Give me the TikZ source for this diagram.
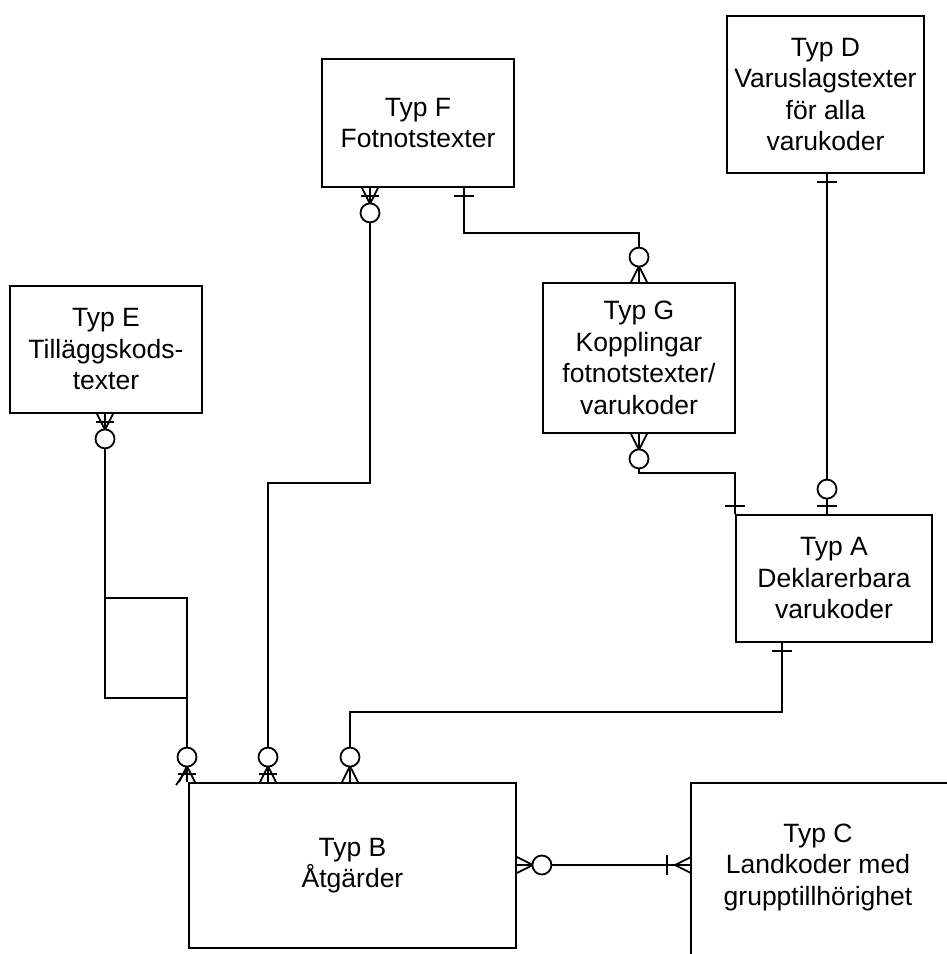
\documentclass[tikz,border=0pt]{standalone}
\usepackage{fontspec}
\setmainfont{Liberation Sans}
\usetikzlibrary{calc}
\begin{document}
\begin{tikzpicture}[x=1pt,y=-1pt,line width=1.8pt,
  ent/.style={draw,rectangle,align=center,inner sep=0pt,font=\fontsize{26.5}{31.5}\selectfont},
  crow/.pic={\draw (-8,0)--(0,16)--(8,0);},
  crowbar/.pic={\draw (-8,0)--(0,16)--(8,0); \draw (-9,8)--(9,8);},
  onebar/.pic={\draw (-10,8)--(10,8);},
  onecrow/.pic={\draw (-8,0)--(0,16)--(8,0); \draw (-10,24)--(10,24);},
  zcirc/.pic={\draw[fill=white] (0,25) circle (9.5pt);}]
\useasboundingbox (0,0) rectangle (946,954);
% entities
\node[ent,minimum width=192pt,minimum height=128pt] (F) at (418,123) {Typ F\\Fotnotstexter};
\node[ent,minimum width=197pt,minimum height=157pt] (D) at (825.5,94.5) {Typ D\\Varuslagstexter\\för alla\\varukoder};
\node[ent,minimum width=192pt,minimum height=127pt] (E) at (106,349.5) {Typ E\\Tilläggskods-\\texter};
\node[ent,minimum width=192pt,minimum height=150pt] (G) at (639,358) {Typ G\\Kopplingar\\fotnotstexter/\\varukoder};
\node[ent,minimum width=196pt,minimum height=127pt] (A) at (834,578.5) {Typ A\\Deklarerbara\\varukoder};
\node[ent,minimum width=327pt,minimum height=165pt] (B) at (352.5,865.5) {Typ B\\Åtgärder};
\node[align=center,inner sep=0pt,font=\fontsize{26.5}{31.5}\selectfont] (C) at (818,867) {Typ C\\Landkoder med\\grupptillhörighet};
\coordinate (Ctr) at (950,783);
\coordinate (Ctl) at (691,783);
\coordinate (Cbl) at (691,960);
\draw (Ctr) -- (Ctl) -- (Cbl);
% helper x positions
\coordinate (x105) at (105,0);
\coordinate (x187) at (187,0);
\coordinate (x268) at (268,0);
\coordinate (x350) at (350,0);
\coordinate (x370) at (370,0);
\coordinate (x464) at (464,0);
\coordinate (x639) at (639,0);
\coordinate (x735) at (735,0);
\coordinate (x782) at (782,0);
\coordinate (x827) at (827,0);
\coordinate (y865) at (0,865);
% connector end points
\coordinate (Fb1) at (F.south -| x370);
\coordinate (Fb2) at (F.south -| x464);
\coordinate (Eb) at (E.south -| x105);
\coordinate (Gt) at (G.north -| x639);
\coordinate (Gb) at (G.south -| x639);
\coordinate (Db) at (D.south -| x827);
\coordinate (At1) at (A.north -| x735);
\coordinate (At2) at (A.north -| x827);
\coordinate (Ab) at (A.south -| x782);
\coordinate (Bt1) at (B.north -| x187);
\coordinate (Bt2) at (B.north -| x268);
\coordinate (Bt3) at (B.north -| x350);
\coordinate (Br) at (B.east |- y865);
\coordinate (Cl) at (Ctl |- y865);
% connectors
\draw[line width=2.6pt] (Fb1) -- (370,483) -- (268,483) -- (Bt2);
\draw (Eb) -- (105,698) -- (187,698) -- (Bt1);
\draw (Eb) -- (105,598) -- (187,598) -- (Bt1);
\draw (Fb2) -- (464,233) -- (639,233) -- (Gt);
\draw (Gb) -- (639,473) -- (735,473) -- (At1);
\draw (Db) -- (At2);
\draw (Ab) -- (782,712) -- (350,712) -- (Bt3);
\draw (Br) -- (Cl);
% end symbols
\pic at (Fb1) {crowbar}; \pic at (Fb1) {zcirc};
\pic[rotate=180] at (Bt2) {crowbar}; \pic[rotate=180] at (Bt2) {zcirc};
\pic at (Eb) {crowbar}; \pic at (Eb) {zcirc};
\pic[rotate=180] at (Bt1) {crowbar}; \pic[rotate=180] at (Bt1) {zcirc};
\draw ($(Bt1)+(-11,3)$) -- ($(Bt1)+(0,-13)$);
\pic at (Fb2) {onebar};
\pic[rotate=180] at (Gt) {crow}; \pic[rotate=180] at (Gt) {zcirc};
\pic at (Gb) {crow}; \pic at (Gb) {zcirc};
\pic[rotate=180] at (At1) {onebar};
\pic at (Db) {onebar};
\pic[rotate=180] at (At2) {onebar}; \pic[rotate=180] at (At2) {zcirc};
\pic at (Ab) {onebar};
\pic[rotate=180] at (Bt3) {crow}; \pic[rotate=180] at (Bt3) {zcirc};
\pic[rotate=90] at (Br) {crow}; \pic[rotate=90] at (Br) {zcirc};
\pic[rotate=-90] at (Cl) {onecrow};
\end{tikzpicture}
\end{document}
